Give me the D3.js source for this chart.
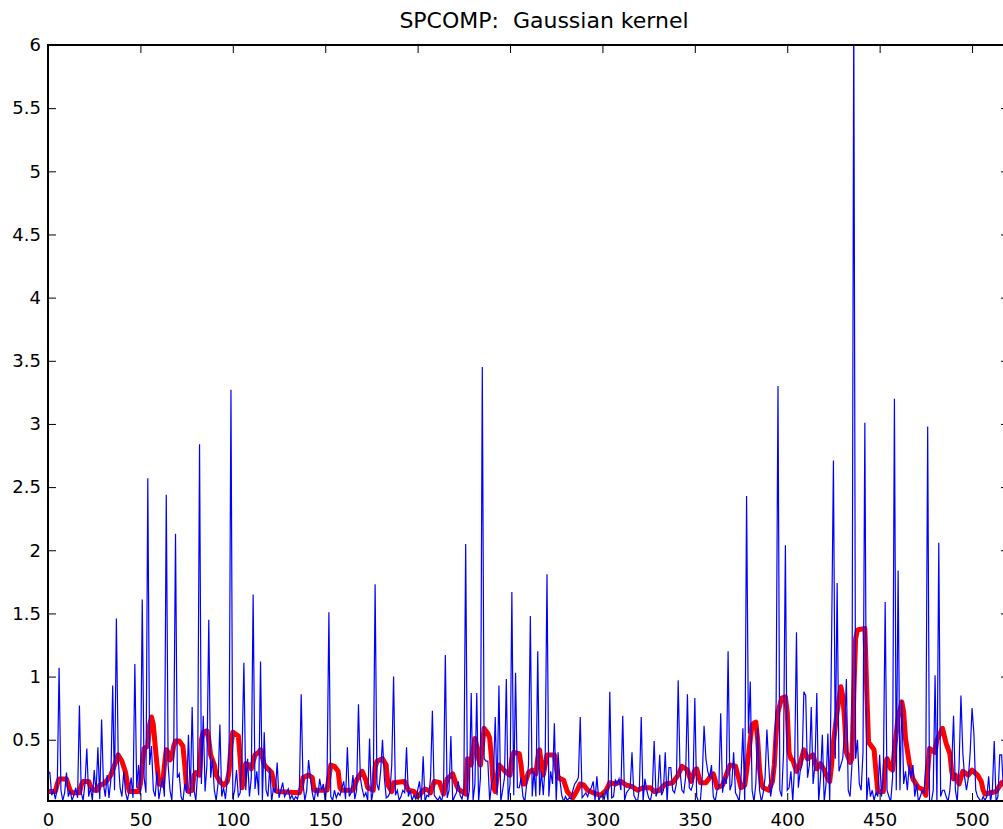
<!DOCTYPE html>
<html lang="en">
<head>
<meta charset="utf-8">
<title>SPCOMP: Gaussian kernel</title>
<script src="https://d3js.org/d3.v7.min.js"></script>
<style type="text/css">
  body { margin: 0; background: #fff; }
  text { font-family: "DejaVu Sans", "Liberation Sans", Arial, sans-serif; fill: #000; }
  .axis path { display: none; }
  .axis line { stroke: #000; stroke-width: 1; }
</style>
</head>
<body>
<script type="text/javascript">
// raw series (blue), one value per sample 0..520
var rawValues = [
  0.25,0.24,0.06,0.10,0.03,0.12,1.07,0.10,0.02,0.08,
  0.24,0.05,0.10,0.02,0.06,0.12,0.04,0.77,0.08,0.02,
  0.15,0.43,0.05,0.12,0.02,0.26,0.08,0.44,0.03,0.66,
  0.15,0.05,0.22,0.04,0.18,0.93,0.10,1.46,0.35,0.12,
  0.05,0.25,0.08,0.02,0.10,0.20,0.04,1.10,0.12,0.30,
  0.06,1.61,0.20,0.08,2.57,0.30,0.45,0.10,0.05,0.25,
  0.03,0.12,0.20,0.05,2.44,0.30,0.10,0.02,0.35,2.13,
  0.20,0.23,0.05,0.01,0.15,0.08,0.54,0.05,0.76,0.10,
  0.02,0.25,2.84,0.15,0.69,0.09,0.30,1.45,0.20,0.35,
  0.10,0.02,0.15,0.62,0.05,0.12,0.03,0.18,0.40,3.27,
  0.03,0.10,0.26,0.05,0.08,0.40,1.11,0.10,0.35,0.05,
  0.20,1.65,0.11,0.25,0.06,1.12,0.02,0.56,0.10,0.05,
  0.28,0.01,0.12,0.08,0.32,0.04,0.10,0.16,0.05,0.08,
  0.11,0.03,0.06,0.02,0.05,0.03,0.10,0.86,0.15,0.02,
  0.10,0.34,0.20,0.08,0.01,0.12,0.05,0.19,0.10,0.15,
  0.01,0.20,1.51,0.05,0.02,0.10,0.04,0.08,0.06,0.12,
  0.17,0.03,0.44,0.05,0.08,0.22,0.03,0.10,0.78,0.20,
  0.11,0.05,0.08,0.02,0.51,0.01,0.10,1.73,0.15,0.10,
  0.25,0.50,0.20,0.04,0.05,0.08,0.30,1.00,0.06,0.10,
  0.02,0.05,0.10,0.08,0.44,0.05,0.10,0.02,0.06,0.03,
  0.10,0.17,0.02,0.37,0.01,0.06,0.05,0.20,0.73,0.06,
  0.04,0.02,0.05,0.01,0.10,1.17,0.04,0.10,0.53,0.01,
  0.05,0.08,0.17,0.06,0.03,0.10,2.05,0.01,0.10,0.87,
  0.02,0.15,0.87,0.01,0.20,3.45,0.35,0.33,0.33,0.01,
  0.15,0.20,0.68,0.06,0.93,0.01,0.10,0.20,0.98,0.02,
  0.15,1.67,0.06,1.03,0.12,0.12,0.20,0.05,0.01,0.15,
  0.30,1.48,0.05,0.25,0.05,1.20,0.06,0.25,0.06,0.30,
  1.81,0.05,0.25,0.15,0.63,0.01,0.40,0.18,0.06,0.01,
  0.05,0.02,0.04,0.03,0.10,0.15,0.17,0.20,0.68,0.04,
  0.06,0.08,0.05,0.10,0.12,0.17,0.02,0.21,0.02,0.05,
  0.06,0.03,0.11,0.02,0.88,0.04,0.05,0.18,0.15,0.19,
  0.10,0.69,0.02,0.08,0.10,0.12,0.40,0.06,0.03,0.01,
  0.12,0.68,0.01,0.19,0.10,0.04,0.02,0.10,0.49,0.05,
  0.10,0.38,0.06,0.10,0.40,0.01,0.28,0.28,0.10,0.08,
  0.15,0.97,0.25,0.10,0.08,0.20,0.86,0.12,0.10,0.15,
  0.83,0.05,0.01,0.02,0.20,0.61,0.35,0.25,0.20,0.30,
  0.05,0.01,0.10,0.12,0.71,0.08,0.20,0.15,1.20,0.10,
  0.15,0.40,0.08,0.05,0.01,0.20,0.59,0.01,2.43,0.55,
  0.96,0.10,0.01,0.15,0.59,0.10,0.01,0.08,0.20,0.58,
  0.30,0.05,0.15,0.30,0.80,3.30,0.10,0.05,0.40,2.04,
  0.10,0.12,0.25,0.01,0.30,1.35,0.12,0.25,0.30,0.88,
  0.85,0.20,0.30,0.76,0.15,0.30,0.87,0.01,0.20,0.54,
  0.01,0.15,0.55,0.01,1.29,2.71,0.35,1.74,0.25,0.30,
  0.35,0.55,0.98,0.10,0.05,0.30,6.30,0.35,0.50,0.15,
  0.10,0.40,3.01,0.01,0.20,0.05,0.10,0.02,0.08,0.05,
  0.38,0.05,0.20,1.59,0.10,0.05,0.01,0.20,3.20,0.10,
  1.84,0.10,0.81,0.15,0.25,0.10,0.30,0.20,0.30,0.05,
  0.15,0.01,0.05,0.10,0.08,0.30,2.98,0.01,0.01,0.10,
  1.01,0.01,2.06,0.05,0.10,0.10,0.05,0.01,0.10,0.30,
  0.69,0.10,0.01,0.30,0.85,0.40,0.20,0.10,0.20,0.40,
  0.75,0.55,0.10,0.05,0.03,0.01,0.05,0.02,0.05,0.21,
  0.01,0.10,0.49,0.01,0.05,0.38,0.38,0.10,0.05,0.12,
  0.15
];

// smoothed series (red), read at the sample positions where its shape changes
var smoothIndex = [
  0,4,5,6,10,11,12,13,17,18,19,22,23,25,27,28,30,32,34,36,38,40,42,43,44,49,
  50,51,52,54,55,56,57,58,59,60,62,63,64,65,66,67,68,69,71,73,74,75,76,78,79,
  80,82,83,84,86,87,88,90,91,93,95,97,98,99,100,103,104,105,106,107,109,110,
  112,114,115,116,117,119,121,122,123,124,136,137,138,141,143,144,151,152,153,
  155,157,158,159,165,167,170,172,173,176,177,178,181,183,184,186,187,193,195,
  198,200,202,204,206,207,209,212,214,216,219,221,222,224,226,227,228,229,230,
  231,232,233,234,235,236,238,239,240,241,242,243,244,246,248,250,251,252,255,
  256,257,258,260,262,264,265,266,267,268,269,270,274,275,276,279,281,284,286,
  288,290,292,295,299,302,304,307,310,313,316,319,322,326,328,331,334,338,341,
  343,346,348,350,351,353,356,358,360,361,362,365,367,369,372,374,375,377,378,
  380,381,383,384,385,386,387,390,392,393,394,395,397,399,400,401,402,403,405,
  407,409,411,414,416,418,420,422,423,424,425,427,429,430,431,432,434,435,436,
  437,438,442,443,444,447,448,449,452,453,454,456,457,458,460,462,463,464,466,
  468,471,473,475,476,477,480,481,484,486,488,489,490,491,493,495,498,500,503,
  505,506,507,510,513,516,520
];
var smoothValues = [
  0.09,0.09,0.15,0.19,0.19,0.14,0.10,0.08,0.08,0.14,0.17,0.17,0.13,0.10,0.10,0.14,0.15,0.18,0.22,0.30,0.38,0.33,0.24,0.15,0.09,0.09,
  0.15,0.30,0.43,0.45,0.62,0.68,0.62,0.45,0.30,0.15,0.14,0.30,0.42,0.40,0.34,0.36,0.45,0.49,0.49,0.45,0.30,0.12,0.09,0.10,0.22,
  0.24,0.22,0.50,0.56,0.57,0.50,0.38,0.30,0.22,0.17,0.14,0.17,0.25,0.45,0.56,0.53,0.35,0.12,0.20,0.31,0.30,0.27,
  0.38,0.40,0.42,0.36,0.30,0.27,0.24,0.18,0.10,0.09,0.08,0.12,0.20,0.22,0.20,0.10,0.10,0.20,0.30,
  0.29,0.25,0.12,0.10,0.10,0.18,0.25,0.18,0.12,0.10,0.28,0.33,0.35,0.30,0.14,0.09,0.16,0.17,0.10,
  0.09,0.05,0.08,0.11,0.10,0.08,0.17,0.16,0.07,0.19,0.23,0.14,0.11,0.09,0.07,0.35,0.33,0.30,0.42,
  0.51,0.45,0.35,0.30,0.45,0.59,0.55,0.51,0.35,0.12,0.09,0.20,0.30,0.27,0.24,0.22,0.35,0.40,0.39,
  0.30,0.15,0.15,0.24,0.26,0.23,0.35,0.42,0.30,0.22,0.30,0.38,0.38,0.28,0.20,0.18,0.09,0.04,0.09,
  0.15,0.14,0.10,0.08,0.06,0.10,0.16,0.15,0.17,0.14,0.13,0.10,0.12,0.12,0.09,0.10,0.15,0.16,0.22,
  0.29,0.26,0.17,0.26,0.27,0.16,0.16,0.20,0.23,0.18,0.12,0.14,0.22,0.30,0.29,0.18,0.12,0.14,0.25,
  0.50,0.62,0.64,0.50,0.27,0.15,0.12,0.10,0.17,0.30,0.55,0.72,0.83,0.84,0.72,0.40,0.35,0.34,0.25,
  0.31,0.42,0.35,0.38,0.27,0.31,0.26,0.19,0.17,0.30,0.48,0.72,0.92,0.85,0.67,0.40,0.32,0.35,0.85,
  1.30,1.37,1.38,0.90,0.48,0.42,0.25,0.09,0.09,0.30,0.35,0.27,0.26,0.42,0.68,0.80,0.72,0.51,0.32,
  0.19,0.12,0.11,0.06,0.25,0.43,0.40,0.50,0.59,0.47,0.39,0.25,0.19,0.22,0.15,0.25,0.22,0.26,0.22,
  0.17,0.10,0.07,0.08,0.09,0.16,0.18
];

var xTicks = [0, 50, 100, 150, 200, 250, 300, 350, 400, 450, 500];
var yTicks = [0.5, 1, 1.5, 2, 2.5, 3, 3.5, 4, 4.5, 5, 5.5, 6];
var xLimits = [0, 520];
var yLimits = [0.015, 6];
var titleText = "SPCOMP:  Gaussian kernel";

var width = 1003, height = 829;
var margin = {left: 48, top: 45, right: 1009, bottom: 801};

var xScale = d3.scaleLinear().domain(xLimits).range([margin.left, margin.right]);
var yScale = d3.scaleLinear().domain(yLimits).range([margin.bottom, margin.top]);

var svg = d3.select("body").append("svg")
    .attr("width", width)
    .attr("height", height);

svg.append("clipPath").attr("id", "plotclip")
  .append("rect")
    .attr("x", margin.left)
    .attr("y", margin.top)
    .attr("width", margin.right - margin.left)
    .attr("height", margin.bottom - margin.top);

var plot = svg.append("g").attr("clip-path", "url(#plotclip)");

var smoothData = smoothIndex.map(function(d, i) { return [d, smoothValues[i]]; });
var rawData = rawValues.map(function(d, i) { return [i, d]; });

var line = d3.line()
    .x(function(d) { return xScale(d[0]); })
    .y(function(d) { return yScale(d[1]); });

plot.append("path")
    .datum(smoothData)
    .attr("d", line)
    .attr("fill", "none")
    .attr("stroke", "#ff0000")
    .attr("stroke-width", 5)
    .attr("stroke-linejoin", "round");

plot.append("path")
    .datum(rawData)
    .attr("d", line)
    .attr("fill", "none")
    .attr("stroke", "#0000ff")
    .attr("stroke-width", 1.2);

// axes, MATLAB style: ticks pointing inward on all four sides
var fontSize = 18;
var fmt = function(d) { return String(d); };

var xAxis = svg.append("g").attr("class", "axis")
    .attr("transform", "translate(0," + margin.bottom + ")")
    .call(d3.axisBottom(xScale).tickValues(xTicks).tickFormat(fmt)
        .tickSizeInner(-8).tickSizeOuter(0).tickPadding(12));
xAxis.selectAll("text").style("font-size", fontSize + "px");

svg.append("g").attr("class", "axis")
    .attr("transform", "translate(0," + margin.top + ")")
    .call(d3.axisTop(xScale).tickValues(xTicks).tickSizeInner(-8).tickSizeOuter(0).tickFormat(""));

var yAxis = svg.append("g").attr("class", "axis")
    .attr("transform", "translate(" + margin.left + ",0)")
    .call(d3.axisLeft(yScale).tickValues(yTicks).tickFormat(fmt)
        .tickSizeInner(-8).tickSizeOuter(0).tickPadding(7));
yAxis.selectAll("text").style("font-size", fontSize + "px");

svg.append("g").attr("class", "axis")
    .attr("transform", "translate(" + margin.right + ",0)")
    .call(d3.axisRight(yScale).tickValues(yTicks).tickSizeInner(-8).tickSizeOuter(0).tickFormat(""));

// box
svg.append("rect")
    .attr("x", margin.left)
    .attr("y", margin.top)
    .attr("width", margin.right - margin.left)
    .attr("height", margin.bottom - margin.top)
    .attr("fill", "none")
    .attr("stroke", "#000")
    .attr("stroke-width", 2);

svg.append("text")
    .attr("x", 544)
    .attr("y", 28)
    .attr("text-anchor", "middle")
    .style("font-size", "22px")
    .style("white-space", "pre")
    .text(titleText);
</script>
</body>
</html>
